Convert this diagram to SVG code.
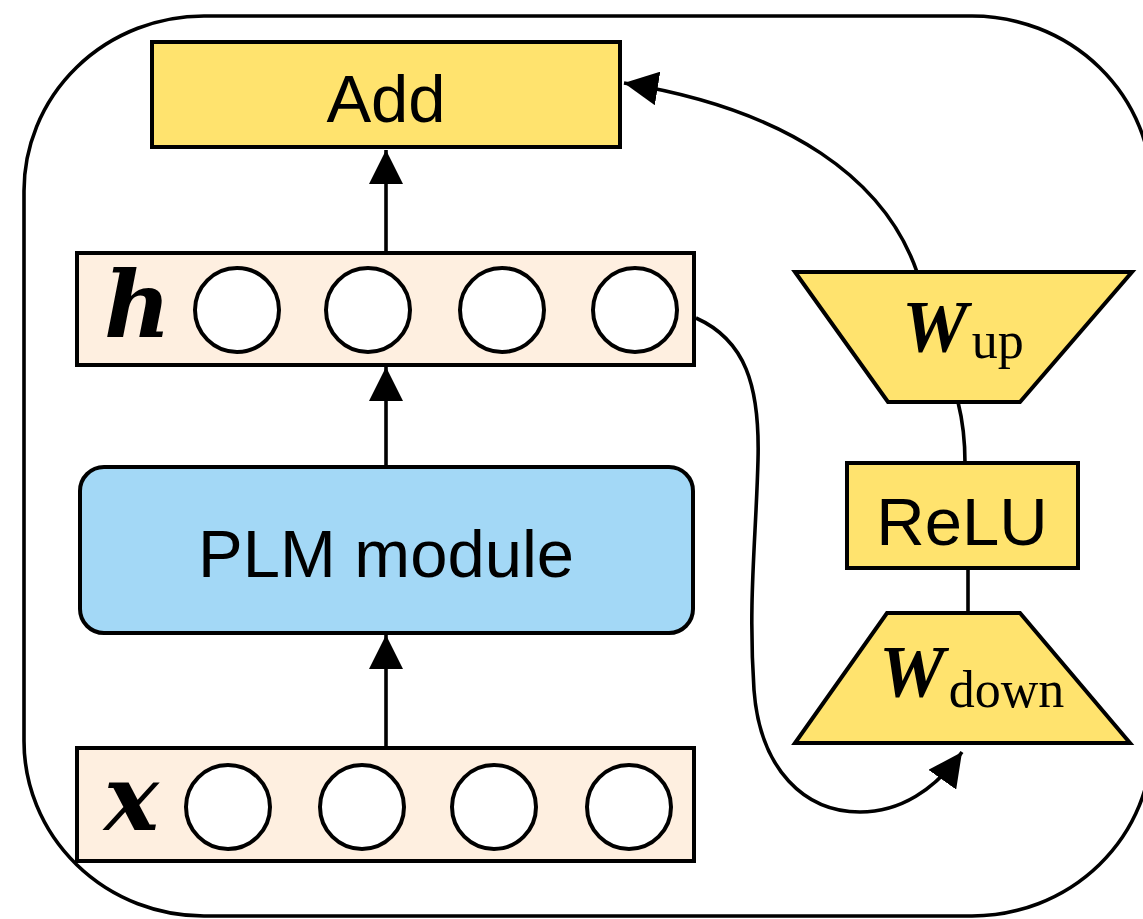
<svg xmlns="http://www.w3.org/2000/svg" width="1143" height="919" viewBox="0 0 1143 919">
  <style>
    .box { stroke: #000; stroke-width: 4; }
    .yellow { fill: #FFE36E; }
    .peach { fill: #FEEFE0; }
    .blue { fill: #A3D8F6; }
    .unit { fill: #fff; stroke: #000; stroke-width: 4; }
    .label { font-family: "Liberation Sans", Arial, sans-serif; font-size: 67px; fill: #000; text-anchor: middle; }
    .vec { font-family: "DejaVu Serif", "Liberation Serif", serif; font-weight: bold; font-style: italic; fill: #000; }
    .mat { font-family: "Liberation Serif", "Times New Roman", serif; font-weight: bold; font-style: italic; font-size: 74px; fill: #000; }
    .sub { font-family: "Liberation Serif", "Times New Roman", serif; font-size: 52px; fill: #000; }
    .wire { fill: none; stroke: #000; stroke-width: 3.6; }
  </style>
  <defs>
    <marker id="arrow" markerUnits="userSpaceOnUse" markerWidth="34" markerHeight="34" viewBox="0 0 30 30" refX="30" refY="15" orient="auto">
      <path d="M0 0 L30 15 L0 30 Z" fill="#000"/>
    </marker>
  </defs>

  <rect width="1143" height="919" fill="#fff"/>

  <!-- outer frame -->
  <rect id="frame" x="24" y="16" width="1128" height="900" rx="180" ry="175" fill="none" stroke="#000" stroke-width="3.6"/>

  <!-- connectors -->
  <g id="connectors">
    <line class="wire" x1="386" y1="253" x2="386" y2="150" marker-end="url(#arrow)"/>
    <line class="wire" x1="386" y1="467" x2="386" y2="367" marker-end="url(#arrow)"/>
    <line class="wire" x1="386" y1="748" x2="386" y2="635" marker-end="url(#arrow)"/>
    <path class="wire" d="M917 272 C885 180 790 110 624 83" marker-end="url(#arrow)"/>
    <path class="wire" d="M696 318 C745 340 760 385 758 460 C756 540 748 600 754 690 C760 770 805 812 860 812 C900 812 935 790 962 752" marker-end="url(#arrow)"/>
    <path class="wire" d="M958 402 Q965 430 965 463"/>
    <line class="wire" x1="968" y1="568" x2="968" y2="612"/>
  </g>

  <!-- Add -->
  <g id="add">
    <rect class="box yellow" x="152" y="42" width="468" height="105"/>
    <text class="label" x="386" y="122">Add</text>
  </g>

  <!-- hidden state h -->
  <g id="h-vector">
    <rect class="box peach" x="77" y="253" width="617" height="112"/>
    <text class="vec" x="104" y="337" font-size="92">h</text>
    <circle class="unit" cx="237" cy="310" r="42"/>
    <circle class="unit" cx="368" cy="310" r="42"/>
    <circle class="unit" cx="502" cy="310" r="42"/>
    <circle class="unit" cx="635" cy="310" r="42"/>
  </g>

  <!-- PLM module -->
  <g id="plm">
    <rect class="box blue" x="80" y="467" width="613" height="166" rx="24"/>
    <text class="label" x="386" y="577">PLM module</text>
  </g>

  <!-- input x -->
  <g id="x-vector">
    <rect class="box peach" x="77" y="748" width="617" height="113"/>
    <text class="vec" x="104" y="830" font-size="92">x</text>
    <circle class="unit" cx="228" cy="807" r="42"/>
    <circle class="unit" cx="362" cy="807" r="42"/>
    <circle class="unit" cx="494" cy="807" r="42"/>
    <circle class="unit" cx="629" cy="807" r="42"/>
  </g>

  <!-- up projection -->
  <g id="w-up">
    <polygon class="box yellow" points="795,272 1132,272 1020,402 888,402"/>
    <text x="902" y="352"><tspan class="mat">W</tspan><tspan class="sub" dx="4" dy="6">up</tspan></text>
  </g>

  <!-- nonlinearity -->
  <g id="relu">
    <rect class="box yellow" x="847" y="463" width="231" height="105"/>
    <text class="label" x="962" y="545">ReLU</text>
  </g>

  <!-- down projection -->
  <g id="w-down">
    <polygon class="box yellow" points="887,613 1020,613 1130,743 795,743"/>
    <text x="879" y="697"><tspan class="mat">W</tspan><tspan class="sub" dx="4" dy="10">down</tspan></text>
  </g>
</svg>
